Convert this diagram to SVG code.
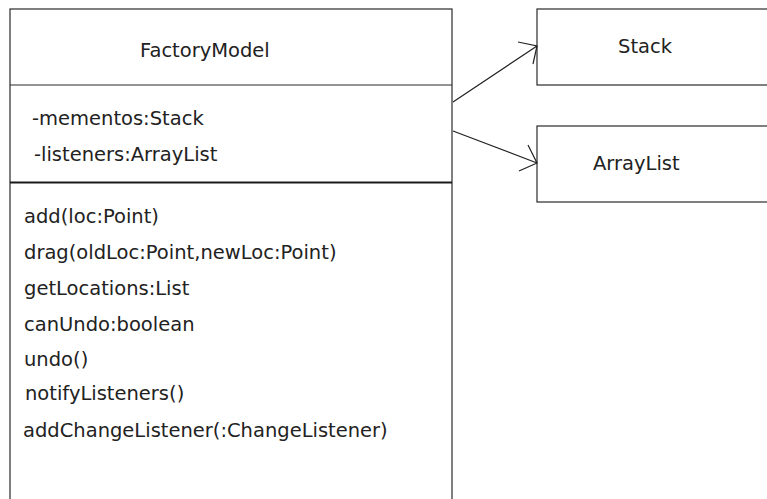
<svg xmlns="http://www.w3.org/2000/svg" width="767" height="499" viewBox="0 0 767 499">
<style>
.box{fill:#fff;stroke:#2a2a2a;stroke-width:1.2}
.sep{stroke:#2a2a2a;stroke-width:1.2}
.thick{stroke:#1a1a1a;stroke-width:2.2}
text{font-family:"DejaVu Sans",sans-serif;font-size:19.5px;fill:#222}
.conn{fill:none;stroke:#222;stroke-width:1.2}
</style>
<rect width="767" height="499" fill="#fff"/>
<g id="FactoryModel">
<rect class="box" x="10" y="9" width="442" height="520"/>
<line class="sep" x1="10" y1="85" x2="452" y2="85"/>
<line class="thick" x1="10" y1="182.5" x2="452" y2="182.5"/>
<text x="140" y="57">FactoryModel</text>
<text x="32" y="125">-mementos:Stack</text>
<text x="34" y="161">-listeners:ArrayList</text>
<text x="24" y="223">add(loc:Point)</text>
<text x="24" y="259">drag(oldLoc:Point,newLoc:Point)</text>
<text x="24" y="295">getLocations:List</text>
<text x="24" y="331">canUndo:boolean</text>
<text x="24" y="366">undo()</text>
<text x="25" y="400">notifyListeners()</text>
<text x="23" y="437">addChangeListener(:ChangeListener)</text>
</g>
<g id="Stack">
<rect class="box" x="537" y="9" width="240" height="76"/>
<text x="618" y="53">Stack</text>
</g>
<g id="ArrayList">
<rect class="box" x="537" y="126" width="240" height="76"/>
<text x="593" y="170">ArrayList</text>
</g>
<g id="connectors">
<path class="conn" d="M453,102 L537,46 M518,42 L537,46 L533,64"/>
<path class="conn" d="M453,131 L537,163 M528,145 L537,163 L519,171"/>
</g>
</svg>
